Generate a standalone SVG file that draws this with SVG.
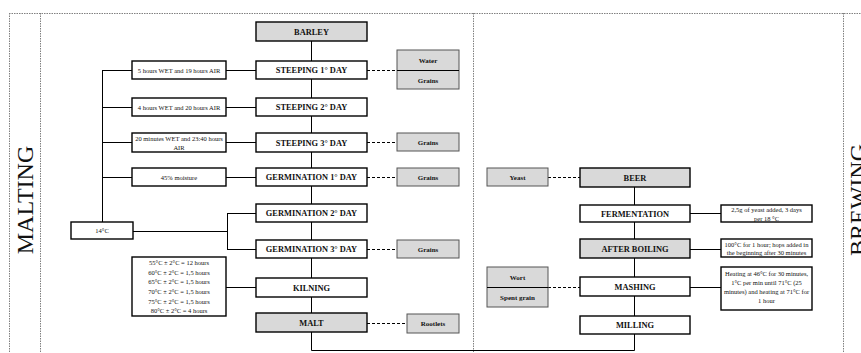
<svg xmlns="http://www.w3.org/2000/svg" width="861" height="353" viewBox="0 0 861 353">
<style>
.frame{fill:none;stroke:#808080;stroke-width:1;stroke-dasharray:1.5 1}
.ln{fill:none;stroke:#000;stroke-width:1}
.dl{fill:none;stroke:#000;stroke-width:1;stroke-dasharray:3 2}
.bx{fill:#fff;stroke:#000;stroke-width:1.4}
.gb{fill:#d9d9d9;stroke:#000;stroke-width:1.4}
.sb{fill:#d9d9d9;stroke:#555;stroke-width:1}
.main{font-family:"Liberation Serif",serif;font-size:8.4px;font-weight:bold;text-anchor:middle;fill:#111}
.side{font-family:"Liberation Serif",serif;font-size:7px;font-weight:bold;text-anchor:middle;fill:#111}
.note{font-family:"Liberation Serif",serif;font-size:6.5px;text-anchor:middle;fill:#111}
.big{font-family:"Liberation Serif",serif;font-size:24px;text-anchor:middle;fill:#111}
</style>
<rect width="861" height="353" fill="#fff"/>
<g id="frame">
<path class="frame" d="M9,13.5H861M9.5,13V353M40.5,13V353M473.5,13V353M843.5,13V353"/>
</g>
<text class="big" transform="translate(33,200) rotate(-90)">MALTING</text>
<text class="big" transform="translate(866,200) rotate(-90)">BREWING</text>
<g id="connectors">
<path class="ln" d="M311.5,41V313M311.5,332V350.5H634.5V334M634.5,187V316"/>
<path class="ln" d="M102.5,70V222M102,70.5H132M102,107.5H132M102,142.5H132M102,177.5H132"/>
<path class="ln" d="M226,70.5H256M226,107.5H256M226,142.5H256M226,177.5H256"/>
<path class="ln" d="M133,231.5H227.5M227.5,213V249M227,213.5H256M227,249.5H256M226,287.5H256"/>
<path class="ln" d="M690,213.5H721M690,249.5H721M690,287.5H721"/>
<path class="dl" d="M367,70.5H397M367,142.5H397M367,177.5H397M367,249.5H397M367,323.5H407"/>
<path class="dl" d="M548,177.5H580M548,287.5H580"/>
</g>
<g id="barley"><rect class="gb" x="256" y="22" width="111" height="19"/><text class="main" x="311.5" y="34.5">BARLEY</text></g>
<g id="steeping1"><rect class="bx" x="256" y="61" width="111" height="18"/><text class="main" x="311.5" y="73">STEEPING 1° DAY</text></g>
<g id="steeping2"><rect class="bx" x="256" y="98" width="111" height="18"/><text class="main" x="311.5" y="110">STEEPING 2° DAY</text></g>
<g id="steeping3"><rect class="bx" x="256" y="133" width="111" height="19"/><text class="main" x="311.5" y="145.5">STEEPING 3° DAY</text></g>
<g id="germination1"><rect class="bx" x="256" y="168" width="111" height="18"/><text class="main" x="311.5" y="180">GERMINATION 1° DAY</text></g>
<g id="germination2"><rect class="bx" x="256" y="204" width="111" height="18"/><text class="main" x="311.5" y="216">GERMINATION 2° DAY</text></g>
<g id="germination3"><rect class="bx" x="256" y="240" width="111" height="18"/><text class="main" x="311.5" y="252">GERMINATION 3° DAY</text></g>
<g id="kilning"><rect class="bx" x="256" y="278" width="111" height="19"/><text class="main" x="311.5" y="290.5">KILNING</text></g>
<g id="malt"><rect class="gb" x="256" y="313" width="111" height="19"/><text class="main" x="311.5" y="325.5">MALT</text></g>
<g id="water-grains"><rect class="sb" x="397" y="50" width="62" height="39"/><path class="ln" d="M397,70.5H459"/><text class="side" x="428" y="63">Water</text><text class="side" x="428" y="82.5">Grains</text></g>
<g id="grains3"><rect class="sb" x="397" y="133" width="62" height="18"/><text class="side" x="428" y="144.5">Grains</text></g>
<g id="grainsg1"><rect class="sb" x="397" y="168" width="62" height="18"/><text class="side" x="428" y="179.5">Grains</text></g>
<g id="grainsg3"><rect class="sb" x="397" y="240" width="62" height="18"/><text class="side" x="428" y="251.5">Grains</text></g>
<g id="rootlets"><rect class="sb" x="407" y="314" width="52" height="19"/><text class="side" x="433" y="326">Rootlets</text></g>
<g id="note-s1"><rect class="bx" x="132" y="61" width="94" height="18"/><text class="note" x="179" y="72.5">5 hours WET and 19 hours AIR</text></g>
<g id="note-s2"><rect class="bx" x="132" y="98" width="94" height="18"/><text class="note" x="179" y="109.5">4 hours WET and 20 hours AIR</text></g>
<g id="note-s3"><rect class="bx" x="132" y="133" width="94" height="19"/><text class="note" x="179" y="141">20 minutes WET and 23:40 hours</text><text class="note" x="179" y="149.5">AIR</text></g>
<g id="note-g1"><rect class="bx" x="132" y="168" width="94" height="18"/><text class="note" x="179" y="179.5">45% moisture</text></g>
<g id="note-14"><rect class="bx" x="71" y="222" width="62" height="17"/><text class="note" x="102" y="233">14°C</text></g>
<g id="note-kiln"><rect class="bx" x="132" y="257" width="94" height="59"/>
<text class="note" x="179" y="265">55°C ± 2°C = 12 hours</text>
<text class="note" x="179" y="274.7">60°C ± 2°C = 1,5 hours</text>
<text class="note" x="179" y="284.4">65°C ± 2°C = 1,5 hours</text>
<text class="note" x="179" y="294.1">70°C ± 2°C = 1,5 hours</text>
<text class="note" x="179" y="303.8">75°C ± 2°C = 1,5 hours</text>
<text class="note" x="179" y="313.2">80°C ± 2°C = 4 hours</text></g>
<g id="beer"><rect class="gb" x="580" y="168" width="110" height="19"/><text class="main" x="635" y="180.5">BEER</text></g>
<g id="fermentation"><rect class="bx" x="580" y="205" width="110" height="17"/><text class="main" x="635" y="216.5">FERMENTATION</text></g>
<g id="afterboiling"><rect class="gb" x="580" y="239" width="110" height="19"/><text class="main" x="635" y="251.5">AFTER BOILING</text></g>
<g id="mashing"><rect class="bx" x="580" y="277" width="110" height="19"/><text class="main" x="635" y="289.5">MASHING</text></g>
<g id="milling"><rect class="bx" x="580" y="316" width="110" height="18"/><text class="main" x="635" y="328">MILLING</text></g>
<g id="yeast"><rect class="sb" x="487" y="168" width="61" height="18"/><text class="side" x="517.5" y="179.5">Yeast</text></g>
<g id="wort"><rect class="sb" x="487" y="267" width="61" height="40"/><path class="ln" d="M487,287.5H548"/><text class="side" x="517.5" y="280">Wort</text><text class="side" x="517.5" y="300">Spent grain</text></g>
<g id="note-ferm"><rect class="bx" x="721" y="205" width="91" height="17"/><text class="note" x="766.5" y="212">2,5g of yeast added, 3 days</text><text class="note" x="766.5" y="220.5">per 18 °C</text></g>
<g id="note-boil"><rect class="bx" x="721" y="239" width="91" height="18"/><text class="note" x="766.5" y="246.5">100°C for 1 hour; hops added in</text><text class="note" x="766.5" y="255">the beginning after 30 minutes</text></g>
<g id="note-mash"><rect class="bx" x="721" y="267" width="91" height="43"/>
<text class="note" x="766.5" y="276">Heating at 46°C for 30 minutes,</text>
<text class="note" x="766.5" y="285">1°C per min until 71°C (25</text>
<text class="note" x="766.5" y="294">minutes) and heating at 71°C for</text>
<text class="note" x="766.5" y="303">1 hour</text></g>
</svg>
